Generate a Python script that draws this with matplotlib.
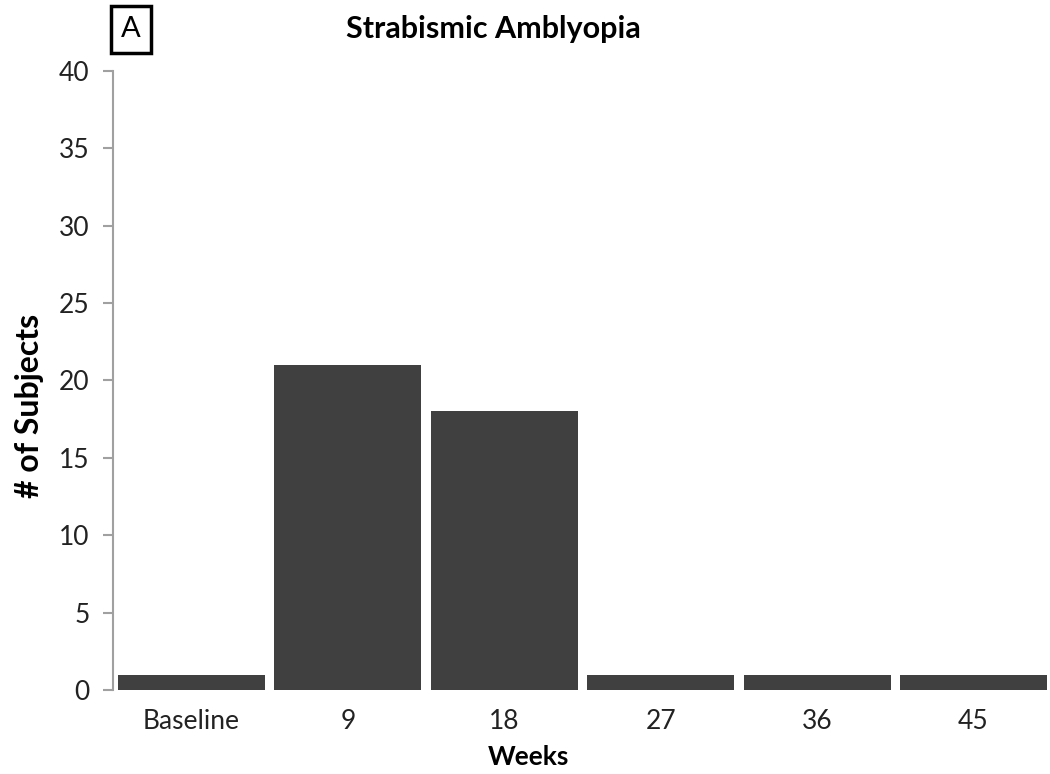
import matplotlib
matplotlib.use('Agg')
import matplotlib.pyplot as plt

plt.rcParams['font.family'] = ['Lato', 'DejaVu Sans']

WEEKS = ['Baseline', '9', '18', '27', '36', '45']
SUBJECTS = [1, 21, 18, 1, 1, 1]
Y_TICKS = [0, 5, 10, 15, 20, 25, 30, 35, 40]

fig = plt.figure(figsize=(10.5, 7.74), dpi=100)
ax = fig.add_axes([0.1079, 0.1085, 0.8937, 0.7998])

ax.bar(range(len(WEEKS)), SUBJECTS, width=0.94, color='#404040')
ax.set_xlim(-0.5, len(WEEKS) - 0.5)
ax.set_ylim(0, 40)
ax.set_yticks(Y_TICKS)
ax.set_xticks(range(len(WEEKS)))
ax.set_xticklabels(WEEKS)

for side in ['top', 'right', 'bottom']:
    ax.spines[side].set_visible(False)
ax.spines['left'].set_color('#A0A0A0')
ax.spines['left'].set_linewidth(1.5)
ax.tick_params(axis='y', direction='out', length=7, width=1.5, color='#A0A0A0',
               labelsize=19, labelcolor='#222222', pad=10)
ax.tick_params(axis='x', length=0, labelsize=19, labelcolor='#222222', pad=14)

fig.text(0.47, 0.962, 'Strabismic Amblyopia', ha='center', va='center',
         fontsize=22, fontweight='bold')
fig.text(0.503, 0.022, 'Weeks', ha='center', va='center',
         fontsize=19, fontweight='bold')
fig.text(0.028, 0.475, '# of Subjects', ha='center', va='center',
         rotation=90, fontsize=23, fontweight='bold')
fig.text(0.125, 0.962, 'A', ha='center', va='center', fontsize=21,
         bbox=dict(boxstyle='square,pad=0.35', facecolor='white',
                   edgecolor='black', linewidth=2.5))

fig.savefig('out.png', dpi=100)
